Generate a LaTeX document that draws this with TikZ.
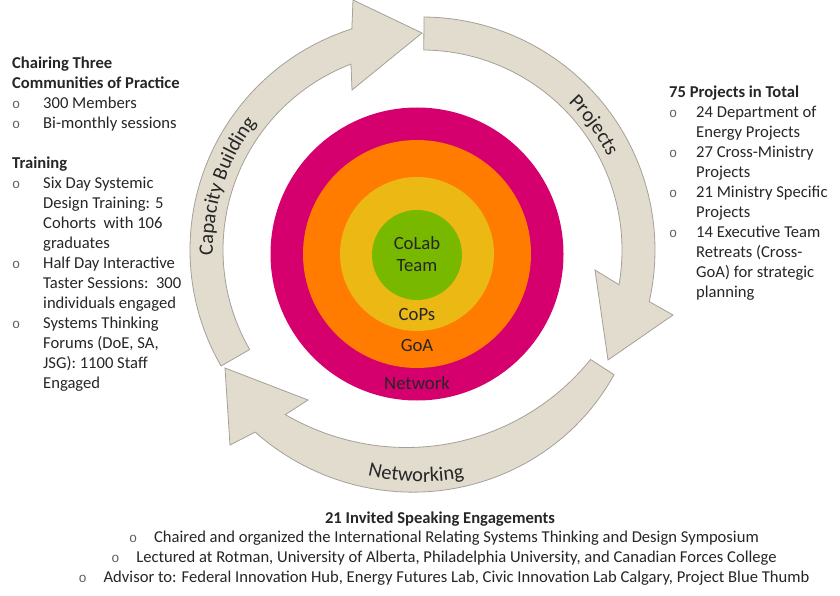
\documentclass[tikz,border=0pt]{standalone}
\usepackage{fontspec}
\setmainfont{Carlito}
\newfontfamily\bulfont{Liberation Mono}
\usetikzlibrary{decorations.text}
\definecolor{txt}{RGB}{38,38,38}
\definecolor{bulcol}{RGB}{95,95,95}
\definecolor{paper}{RGB}{226,220,207}
\definecolor{paperline}{RGB}{165,160,152}
\definecolor{cmag}{RGB}{213,0,110}
\definecolor{corange}{RGB}{255,124,0}
\definecolor{cyellow}{RGB}{235,184,20}
\definecolor{cgreen}{RGB}{120,185,0}
\newcommand{\bulmark}{\textcolor{bulcol}{\bulfont\fontsize{13.5}{13.5}\selectfont o}}
\newcommand{\hd}[1]{\multicolumn{2}{@{}l@{}}{\bfseries #1}}
\begin{document}
\begin{tikzpicture}[x=1pt,y=1pt,
  arrowshape/.style={fill=paper, draw=paperline, line width=0.8pt, line join=miter},
  ring/.style={circle, minimum size=#1, inner sep=0pt, draw=none},
  ringlabel/.style={anchor=base, font=\fontsize{18.7}{22}\selectfont, text=txt, inner sep=0pt},
  block/.style={anchor=north west, inner sep=0pt, text=txt, font=\fontsize{16.6}{20}\selectfont, align=left},
  bottomline/.style={anchor=base, inner sep=0pt, text=txt, font=\fontsize{16.6}{20}\selectfont},
  arclabel/.style={decorate, decoration={text along path, text align={center}, text color=txt, text={|\fontsize{20.5}{24}\selectfont|#1}}}
]
\useasboundingbox (0,0) rectangle (840,-596);
\fill[white] (0,0) rectangle (840,-596);

% concentric circles
\node[ring=293pt, fill=cmag] (network) at (417,-254) {};
\node[ring=228pt, fill=corange] (goa) at (417,-254) {};
\node[ring=154pt, fill=cyellow] (cops) at (417,-254) {};
\node[ring=90pt, fill=cgreen] (colab) at (417,-255) {};
\node[ringlabel] (lcolab) at (417,-249) {CoLab};
\node[ringlabel] (lteam) at (417,-271) {Team};
\node[ringlabel] (lcops) at (417,-320) {CoPs};
\node[ringlabel] (lgoa) at (417,-351) {GoA};
\node[ringlabel] (lnet) at (417,-389) {Network};

% cycle arrows
\begin{scope}[shift={(422,-250)}]
\draw[arrowshape] (210:199) -- (210:232) arc[start angle=210, end angle=107.6, radius=232]
  -- (-69,250) -- (0,217) -- (-70,160) -- (110.9:199) arc[start angle=110.9, end angle=210, radius=199] -- cycle;
\draw[arrowshape] (89.5:200) -- (89.5:233) arc[start angle=89.5, end angle=-12.8, radius=233]
  -- (251,-65) -- (186,-110) -- (173,-20) -- (-10:200) arc[start angle=-10, end angle=89.5, radius=200] -- cycle;
\draw[arrowshape] (327:201) -- (327:229)
  -- plot[domain=327:227.5, samples=50] (\x:{229+29*((327-\x)/99.5)-11*((327-\x)/99.5)^2})
  -- (-192,-195) -- (-197,-118) -- (-114,-150)
  -- plot[domain=230.3:327, samples=50] (\x:{201-35.2*((327-\x)/96.7)+48.2*((327-\x)/96.7)^2}) -- cycle;
\path[arclabel={Capacity Building}] (202:209) arc[start angle=202, end angle=122, radius=209];
\path[arclabel={Projects}] (76:208) arc[start angle=76, end angle=-4, radius=208];
\path[arclabel={Networking}] (243.5:232) arc[start angle=243.5, end angle=293.5, radius=232];
\end{scope}

% left text
\node[block] (left) at (12,-54) {%
\begin{tabular}{@{}l@{}l@{}}
\hd{Chairing Three}\\
\hd{Communities of Practice}\\
\makebox[31pt][l]{\bulmark} & 300 Members\\
\makebox[31pt][l]{\bulmark} & Bi-monthly sessions\\
 & \\
\hd{Training}\\
\makebox[31pt][l]{\bulmark} & Six Day Systemic\\
 & Design Training: 5\\
 & Cohorts\ \ with 106\\
 & graduates\\
\makebox[31pt][l]{\bulmark} & Half Day Interactive\\
 & Taster Sessions:\ \ 300\\
 & individuals engaged\\
\makebox[31pt][l]{\bulmark} & Systems Thinking\\
 & Forums (DoE, SA,\\
 & JSG): 1100 Staff\\
 & Engaged
\end{tabular}};

% right text
\node[block] (right) at (669,-83) {%
\begin{tabular}{@{}l@{}l@{}}
\hd{75 Projects in Total}\\
\makebox[27pt][l]{\bulmark} & 24 Department of\\
 & Energy Projects\\
\makebox[27pt][l]{\bulmark} & 27 Cross-Ministry\\
 & Projects\\
\makebox[27pt][l]{\bulmark} & 21 Ministry Specific\\
 & Projects\\
\makebox[27pt][l]{\bulmark} & 14 Executive Team\\
 & Retreats (Cross-\\
 & GoA) for strategic\\
 & planning
\end{tabular}};

% bottom text
\node[bottomline] (btitle) at (440,-523) {\bfseries 21 Invited Speaking Engagements};
\node[bottomline] (b1) at (444,-542) {\makebox[25pt][l]{\bulmark}Chaired and organized the International Relating Systems Thinking and Design Symposium};
\node[bottomline] (b2) at (444,-562) {\makebox[25pt][l]{\bulmark}Lectured at Rotman, University of Alberta, Philadelphia University, and Canadian Forces College};
\node[bottomline] (b3) at (444,-582) {\makebox[25pt][l]{\bulmark}Advisor to: Federal Innovation Hub, Energy Futures Lab, Civic Innovation Lab Calgary, Project Blue Thumb};
\end{tikzpicture}
\end{document}
